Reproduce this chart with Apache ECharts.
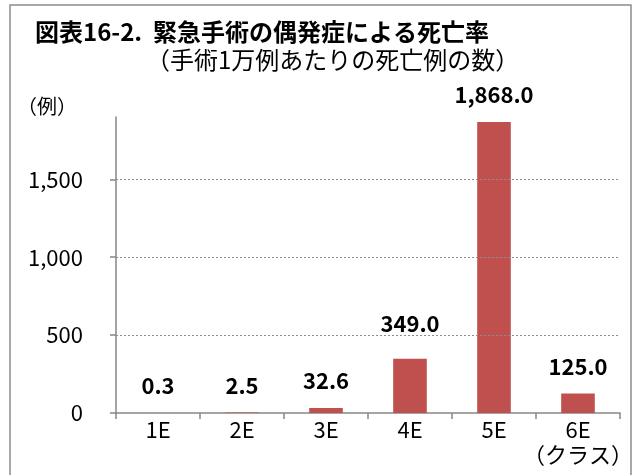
<!DOCTYPE html>
<html><head><meta charset="utf-8">
<script src="https://cdn.jsdelivr.net/npm/echarts@6/dist/echarts.min.js"></script>
<style>html,body{margin:0;padding:0;background:#fff}#c{width:635px;height:475px}</style>
</head><body><div id="c"></div>
<script>
const categories = ['1E','2E','3E','4E','5E','6E'];
const values = [0.3, 2.5, 32.6, 349.0, 1868.0, 125.0];
const yTicks = [0, 500, 1000, 1500];
const gridValues = [500, 1000, 1500];
const titleText = '図表16-2.  緊急手術の偶発症による死亡率';
const subtitleText = '（手術1万例あたりの死亡例の数）';
const yUnit = '（例）';
const xUnit = '（クラス）';

const F = '"Noto Sans CJK JP", "Noto Sans", sans-serif';
const chart = echarts.init(document.getElementById('c'), null, {renderer:'canvas'});
const fmt = v => v.toLocaleString('en-US', {minimumFractionDigits:1, maximumFractionDigits:1});
chart.setOption({
  animation:false,
  backgroundColor:'#fff',
  title:[
    {text:titleText, left:30, top:15, textStyle:{fontFamily:F, fontSize:24, fontWeight:'bold', color:'#000'}},
    {text:subtitleText, left:141, top:43, textStyle:{fontFamily:F, fontSize:24, fontWeight:'normal', color:'#000'}},
    {text:yUnit, left:12, top:91, textStyle:{fontFamily:F, fontSize:20, fontWeight:'normal', color:'#000'}}
  ],
  graphic:[
    {type:'rect', shape:{x:10, y:5, width:621, height:480}, style:{fill:'none', stroke:'#8c8c8c', lineWidth:1.5}, silent:true},
    {type:'text', right:2, top:444, style:{text:xUnit, font:'normal 22px '+F, fill:'#000'}}
  ],
  grid:{left:116, right:15, top:117, bottom:62},
  xAxis:{
    type:'category', data:categories,
    axisLine:{lineStyle:{color:'#868686', width:1.5}},
    axisTick:{show:true, length:6, lineStyle:{color:'#868686', width:1.5}},
    axisLabel:{color:'#000', fontFamily:F, fontSize:22, margin:6}
  },
  yAxis:{
    type:'value', min:0, max:1900, interval:500,
    axisLine:{show:true, lineStyle:{color:'#868686', width:1.5}},
    axisTick:{show:true, length:6, customValues:yTicks, lineStyle:{color:'#868686', width:1.5}},
    axisLabel:{color:'#000', fontFamily:F, fontSize:22, margin:33, customValues:yTicks,
      formatter:v => v.toLocaleString('en-US')},
    splitLine:{show:false}
  },
  series:[{
    type:'bar', data:values.map((v,i)=> i===3 ? {value:v, label:{offset:[0,-8]}} : v),
    barWidth:'40%',
    itemStyle:{color:'#C0504D'},
    label:{show:true, position:'top', distance:16, color:'#000', fontFamily:F, fontSize:22, fontWeight:'bold',
      formatter:p => fmt(p.value)},
    markLine:{silent:true, symbol:'none', label:{show:false},
      lineStyle:{color:'#8c8c8c', type:[2,2], width:1},
      data: gridValues.map(v => ({yAxis:v}))}
  }]
});
</script></body></html>
